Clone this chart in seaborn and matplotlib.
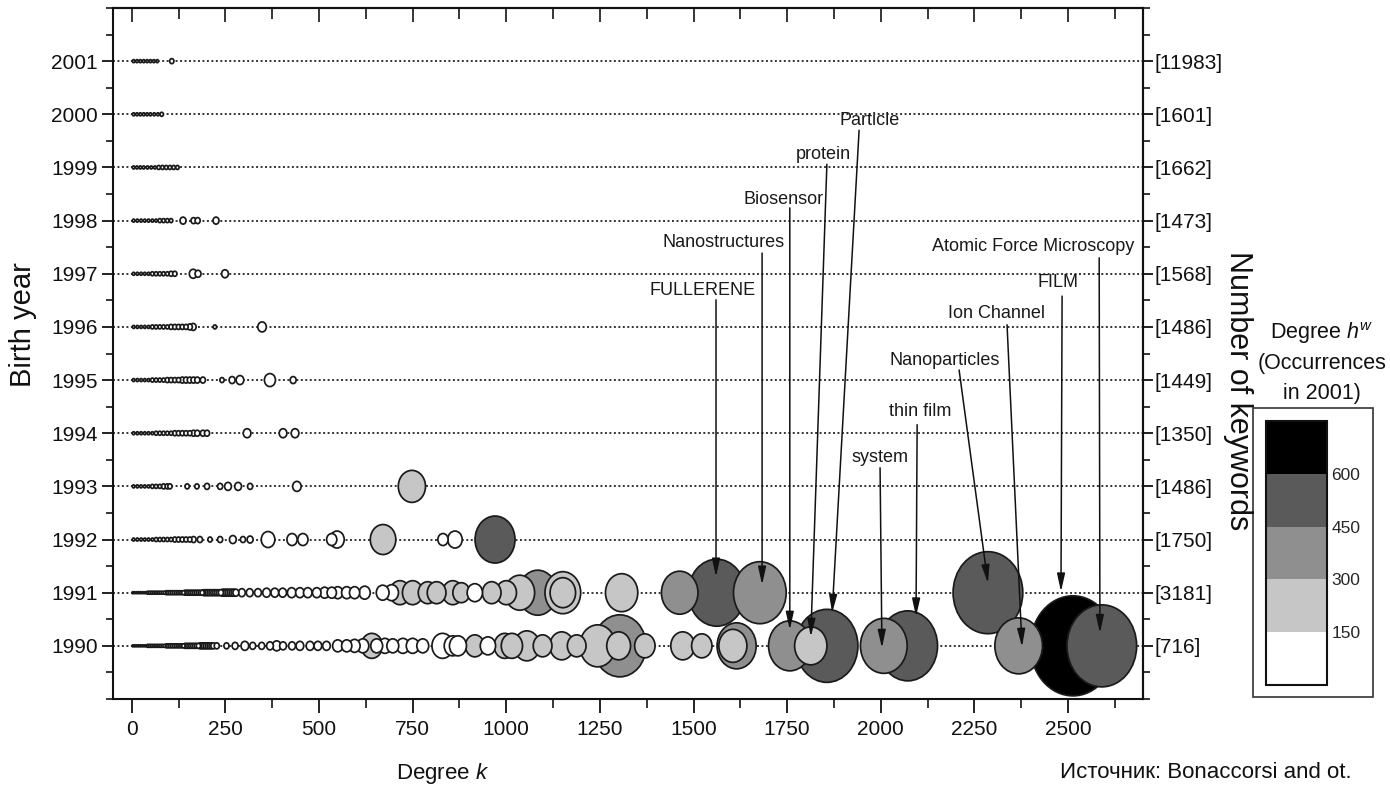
import numpy as np
import pandas as pd
import matplotlib
matplotlib.use("Agg")
import matplotlib.pyplot as plt
import matplotlib.colors as mcolors
import matplotlib.path as mpath
import matplotlib.transforms as mtransforms
from matplotlib.patches import Rectangle
from matplotlib.ticker import MultipleLocator
import seaborn as sns

# ---------------- data ----------------
years = [2001, 2000, 1999, 1998, 1997, 1996, 1995, 1994, 1993, 1992, 1991, 1990]
keyword_counts = [11983, 1601, 1662, 1473, 1568, 1486, 1449, 1350, 1486, 1750, 3181, 716]
x_ticks = [0, 250, 500, 750, 1000, 1250, 1500, 1750, 2000, 2250, 2500]
cbar_ticks = [150, 300, 450, 600]

k_2001 = [5, 14, 23, 32, 41, 50, 59, 68, 107]
occ_2001 = [3, 3, 3, 3, 3, 3, 3, 3, 5]
hw_2001 = [30, 30, 30, 30, 30, 30, 30, 30, 40]

k_2000 = [5, 14, 23, 32, 41, 50, 60, 70, 80]
occ_2000 = [3, 3, 3, 3, 3, 3, 3, 3, 4]
hw_2000 = [30, 30, 30, 30, 30, 30, 30, 30, 30]

k_1999 = [5, 14, 23, 32, 42, 52, 62, 72, 82, 92, 102, 112, 122]
occ_1999 = [3, 3, 3, 3, 3, 3, 3, 4, 4, 4, 4, 4, 4]
hw_1999 = [30, 30, 30, 30, 30, 30, 30, 30, 30, 30, 30, 30, 30]

k_1998 = [5, 15, 25, 35, 45, 55, 65, 75, 85, 95, 105, 137, 165, 176, 225]
occ_1998 = [3, 3, 3, 3, 3, 3, 3, 4, 4, 4, 4, 7, 6, 6, 7]
hw_1998 = [30, 30, 30, 30, 30, 30, 30, 30, 30, 30, 30, 40, 40, 40, 40]

k_1997 = [5, 15, 25, 35, 45, 55, 65, 75, 85, 95, 105, 115, 164, 177, 249]
occ_1997 = [3, 3, 3, 3, 3, 4, 4, 4, 4, 4, 5, 5, 9, 7, 8]
hw_1997 = [30, 30, 30, 30, 30, 30, 30, 30, 30, 30, 30, 30, 40, 40, 40]

k_1996 = [5, 15, 25, 35, 45, 55, 65, 75, 85, 95, 105, 115, 125, 135, 145, 155, 164, 222, 348]
occ_1996 = [3, 3, 3, 3, 3, 4, 4, 4, 4, 4, 5, 5, 5, 5, 5, 6, 7, 4, 10]
hw_1996 = [30, 30, 30, 30, 30, 30, 30, 30, 30, 30, 30, 30, 30, 30, 30, 30, 30, 40, 60]

k_1995 = [5, 15, 25, 35, 45, 55, 65, 75, 85, 95, 105, 115, 125, 135, 145, 155, 165, 175,
          190, 241, 268, 289, 369, 431]
occ_1995 = [3, 3, 3, 3, 3, 4, 4, 4, 4, 5, 5, 5, 5, 6, 6, 6, 6, 6, 6, 5, 7, 9, 13, 7]
hw_1995 = [30, 30, 30, 30, 30, 30, 30, 30, 30, 30, 30, 30, 30, 30, 30, 30, 30, 30,
           30, 40, 40, 50, 60, 50]

k_1994 = [5, 15, 25, 35, 45, 55, 65, 75, 85, 95, 105, 115, 125, 135, 145, 155, 165, 175,
          190, 201, 308, 404, 436]
occ_1994 = [3, 3, 3, 3, 3, 3, 4, 4, 4, 4, 4, 5, 5, 5, 5, 5, 6, 6, 6, 6, 9, 9, 9]
hw_1994 = [30, 30, 30, 30, 30, 30, 30, 30, 30, 30, 30, 30, 30, 30, 30, 30, 30, 30,
           30, 30, 50, 50, 50]

k_1993 = [5, 15, 25, 35, 45, 55, 65, 75, 85, 95, 102, 148, 174, 201, 236, 257, 284, 316, 441, 748]
occ_1993 = [3, 3, 3, 3, 3, 4, 4, 4, 5, 5, 5, 5, 5, 6, 6, 8, 8, 6, 10, 32]
hw_1993 = [30, 30, 30, 30, 30, 30, 30, 30, 30, 30, 30, 40, 40, 40, 40, 50, 50, 50, 60, 220]

k_1992 = [5, 15, 25, 35, 45, 55, 65, 75, 85, 95, 105, 115, 125, 135, 145, 155, 165, 182,
          209, 236, 270, 297, 316, 364, 428, 457, 534, 548, 671, 831, 863, 970]
occ_1992 = [3, 3, 3, 3, 3, 3, 4, 4, 4, 4, 4, 5, 5, 5, 5, 5, 6, 6,
            5, 6, 8, 6, 7, 16, 12, 12, 12, 17, 30, 12, 17, 47]
hw_1992 = [30, 30, 30, 30, 30, 30, 30, 30, 30, 30, 30, 30, 30, 30, 30, 30, 30, 30,
           40, 40, 40, 40, 40, 60, 60, 60, 60, 60, 220, 60, 60, 520]

k_1991 = [3, 8, 13, 18, 23, 28, 33, 38, 43, 48, 53, 58, 63, 68, 73, 78, 83, 88, 93, 98,
          103, 108, 113, 118, 123, 128, 133, 138, 143, 148, 153, 158, 163, 168, 173, 178,
          183, 188, 193, 198, 203, 208, 213, 218, 223, 228, 233, 238, 243, 248, 253, 258,
          263, 268, 273, 278,
          294, 315, 337, 360, 382, 403, 427, 449, 470, 494, 515, 534, 550, 574, 595, 622,
          670, 694, 716, 750, 790, 814, 857, 880, 916, 961, 1000, 1036, 1084, 1151, 1151,
          1308, 1463, 1562, 1677, 2286]
occ_1991 = [2, 2, 2, 2, 2, 2, 2, 2, 3, 3, 3, 3, 3, 3, 3, 3, 3, 3, 4, 4,
            4, 4, 4, 4, 4, 4, 4, 4, 5, 5, 5, 5, 5, 5, 5, 5,
            5, 5, 6, 6, 6, 6, 6, 6, 6, 6, 6, 6, 7, 7, 7, 7,
            7, 7, 7, 7,
            8, 8, 8, 9, 9, 9, 10, 10, 10, 10, 11, 11, 12, 12, 12, 13,
            15, 16, 24, 24, 22, 22, 24, 20, 18, 22, 24, 35, 45, 42, 30,
            38, 43, 67, 62, 82]
hw_1991 = [30, 30, 30, 30, 30, 30, 30, 30, 30, 30, 30, 30, 30, 30, 30, 30, 30, 30, 30, 30,
           30, 30, 30, 30, 30, 30, 30, 30, 30, 30, 30, 30, 30, 30, 30, 30,
           30, 30, 30, 30, 30, 30, 30, 30, 30, 30, 30, 30, 30, 30, 30, 30,
           30, 30, 30, 30,
           40, 40, 40, 40, 40, 40, 50, 50, 50, 50, 50, 50, 60, 60, 60, 60,
           60, 60, 220, 220, 220, 220, 220, 220, 60, 220, 220, 220, 400, 220, 220,
           220, 380, 530, 370, 540]

k_1990 = [3, 8, 13, 18, 23, 28, 33, 38, 43, 48, 53, 58, 63, 68, 73, 78, 83, 88, 93, 98,
          103, 108, 113, 118, 123, 128, 133, 138, 143, 148, 153, 158, 163, 168, 173, 178,
          183, 188, 193, 198, 203, 208, 213, 218,
          227, 253, 276, 302, 323, 347, 369, 387, 404, 428, 449, 476, 497, 520, 550, 574,
          595, 617, 641, 654, 676, 697, 724, 750, 777, 830, 857, 871, 916, 951, 996, 1015,
          1055, 1097, 1148, 1188, 1244, 1303, 1300, 1370, 1471, 1522, 1615, 1605, 1757,
          1856, 1813, 2008, 2072, 2368, 2513, 2590]
occ_1990 = [2, 2, 2, 2, 2, 2, 2, 2, 3, 3, 3, 3, 3, 3, 3, 3, 3, 3, 4, 4,
            4, 4, 4, 4, 4, 4, 4, 4, 5, 5, 5, 5, 5, 5, 5, 5,
            6, 6, 6, 6, 6, 6, 6, 6,
            6, 6, 7, 9, 7, 7, 8, 10, 8, 8, 9, 9, 9, 9, 12, 12,
            13, 14, 25, 14, 15, 14, 15, 15, 14, 25, 20, 20, 22, 18, 25, 25,
            30, 22, 28, 22, 42, 62, 28, 24, 28, 24, 46, 33, 50,
            73, 38, 55, 70, 56, 104, 82]
hw_1990 = [30, 30, 30, 30, 30, 30, 30, 30, 30, 30, 30, 30, 30, 30, 30, 30, 30, 30, 30, 30,
           30, 30, 30, 30, 30, 30, 30, 30, 30, 30, 30, 30, 30, 30, 30, 30,
           30, 30, 30, 30, 30, 30, 30, 30,
           40, 40, 40, 40, 40, 40, 40, 40, 40, 50, 50, 50, 50, 50, 60, 60,
           60, 60, 220, 60, 60, 60, 60, 60, 60, 60, 60, 60, 220, 60, 220, 220,
           220, 220, 220, 220, 220, 410, 220, 220, 220, 220, 390, 220, 380,
           530, 230, 370, 520, 380, 690, 510]

# annotation labels: (text, text position, arrow start, arrow tip) in data units
annotations = [
    ("FULLERENE", (1523, 1996.69), (1560, 1996.51), (1560, 1991.30)),
    ("Nanostructures", (1579, 1997.58), (1683, 1997.39), (1683, 1991.15)),
    ("Biosensor", (1741, 1998.39), (1757, 1998.24), (1757, 1990.30)),
    ("protein", (1846, 1999.25), (1856, 1999.06), (1813, 1990.17)),
    ("Particle", (1971, 1999.89), (1942, 1999.70), (1870, 1990.62)),
    ("system", (1998, 1993.55), (1998, 1993.35), (2003, 1989.96)),
    ("thin film", (2105, 1994.40), (2097, 1994.16), (2094, 1990.55)),
    ("Nanoparticles", (2171, 1995.36), (2209, 1995.19), (2286, 1991.18)),
    ("Ion Channel", (2308, 1996.26), (2337, 1996.04), (2377, 1989.98)),
    ("FILM", (2473, 1996.83), (2484, 1996.58), (2481, 1991.02)),
    ("Atomic Force Microscopy", (2406, 1997.52), (2583, 1997.30), (2585, 1990.24)),
]

# ---------------- style ----------------
sns.set_theme(style="white")
plt.rcParams['font.family'] = ['Liberation Sans', 'DejaVu Sans']
plt.rcParams['mathtext.fontset'] = 'custom'
plt.rcParams['mathtext.rm'] = 'Liberation Sans'
plt.rcParams['mathtext.it'] = 'Liberation Sans:italic'
plt.rcParams['text.color'] = '#111111'

rows = [
    (2001, k_2001, occ_2001, hw_2001), (2000, k_2000, occ_2000, hw_2000),
    (1999, k_1999, occ_1999, hw_1999), (1998, k_1998, occ_1998, hw_1998),
    (1997, k_1997, occ_1997, hw_1997), (1996, k_1996, occ_1996, hw_1996),
    (1995, k_1995, occ_1995, hw_1995), (1994, k_1994, occ_1994, hw_1994),
    (1993, k_1993, occ_1993, hw_1993), (1992, k_1992, occ_1992, hw_1992),
    (1991, k_1991, occ_1991, hw_1991), (1990, k_1990, occ_1990, hw_1990),
]
df = pd.concat([pd.DataFrame({'year': yr, 'k': ks, 'occ': oc, 'hw': hw})
                for yr, ks, oc, hw in rows], ignore_index=True)
df['area'] = df['occ'] ** 2
df = df.sort_values('area', ascending=False, kind='stable').reset_index(drop=True)

W, H = 1390, 785
def fx(px):
    return px / W
def fy(py):
    return 1 - py / H

fig = plt.figure(figsize=(13.9, 7.85), dpi=100)
ax = fig.add_axes([fx(113), fy(699), (1143 - 113) / W, (699 - 8) / H])

grays = ['#ffffff', '#c6c6c6', '#8f8f8f', '#5a5a5a', '#000000']
cmap = mcolors.ListedColormap(grays)
bounds = [0, 150, 300, 450, 600, 750]
norm = mcolors.BoundaryNorm(bounds, cmap.N)

ellipse = mpath.Path.unit_circle().transformed(mtransforms.Affine2D().scale(0.85, 1.0))

sns.scatterplot(data=df, x='k', y='year', hue='hw', palette=cmap, hue_norm=norm,
                size='area', sizes=(0, (100 * 0.72) ** 2), size_norm=(0, 100 ** 2),
                marker=ellipse, edgecolor='#1a1a1a', linewidth=1.25, legend=False,
                ax=ax, zorder=2)

ax.set_xlim(-50, 2700)
ax.set_ylim(1989, 2002)
ax.set_xticks(x_ticks)
ax.set_xticklabels([str(v) for v in x_ticks])
ax.xaxis.set_minor_locator(MultipleLocator(125))
ax.set_yticks(years)
ax.set_yticklabels([str(y) for y in years])
ax.yaxis.set_minor_locator(MultipleLocator(0.5))
ax.set_xlabel('')
ax.set_ylabel('')

ax.grid(False)
ax.grid(axis='y', which='major', linestyle=(0, (1, 1.3)), color='#333333', linewidth=1.4)
ax.set_axisbelow(True)

for sp in ax.spines.values():
    sp.set_color('#111111')
    sp.set_linewidth(1.5)

ax.tick_params(axis='y', which='major', direction='out', length=8, width=1.3,
               labelsize=15, pad=3, left=True, right=False, colors='#111111')
ax.tick_params(axis='y', which='minor', direction='out', length=5, width=1.3, left=True, right=False)
ax.tick_params(axis='x', which='major', direction='out', length=10, width=1.3,
               labelsize=15, pad=5, bottom=True, top=False, colors='#111111')
ax.tick_params(axis='x', which='minor', direction='out', length=6.5, width=1.3, bottom=True, top=False)

secx = ax.secondary_xaxis('top')
secx.set_xticks(x_ticks)
secx.xaxis.set_minor_locator(MultipleLocator(125))
secx.tick_params(axis='x', which='major', direction='in', length=10, width=1.3, labeltop=False)
secx.tick_params(axis='x', which='minor', direction='in', length=8, width=1.3)
secx.spines['top'].set_linewidth(1.5)

secy = ax.secondary_yaxis('right')
secy.set_yticks(years)
secy.set_yticklabels(['[%d]' % c for c in keyword_counts])
secy.yaxis.set_minor_locator(MultipleLocator(0.5))
secy.tick_params(axis='y', which='major', direction='out', length=7, width=1.3,
                 labelsize=15, pad=1, colors='#111111')
secy.tick_params(axis='y', which='minor', direction='out', length=5, width=1.3)
secy.spines['right'].set_linewidth(1.5)

for label, tpos, start, tip in annotations:
    ax.text(tpos[0], tpos[1], label, ha='center', va='center', fontsize=13,
            color='#1a1a1a', zorder=6)
    ax.annotate('', xy=tip, xytext=start,
                arrowprops=dict(arrowstyle='-|>,head_length=0.9,head_width=0.2',
                                color='#111111', lw=1.1, shrinkA=0, shrinkB=0,
                                mutation_scale=12), zorder=6)

# axis titles
fig.text(fx(23), fy(325), 'Birth year', rotation=90, ha='center', va='center', fontsize=21)
fig.text(fx(1238), fy(391), 'Number of keywords', rotation=-90, ha='center', va='center', fontsize=22)
fig.text(fx(443), fy(773), 'Degree $k$', ha='center', va='center', fontsize=16)

# colour bar
cax = fig.add_axes([fx(1266), fy(685), 61 / W, (685 - 421) / H])
sm = matplotlib.cm.ScalarMappable(norm=norm, cmap=cmap)
cb = fig.colorbar(sm, cax=cax, ticks=cbar_ticks)
cb.ax.minorticks_off()
cb.ax.tick_params(which='both', length=0, labelsize=12.5, pad=3)
cb.outline.set_linewidth(1.5)
cb.outline.set_edgecolor('#111111')
fig.add_artist(Rectangle((fx(1253), fy(697)), 120 / W, 289 / H, transform=fig.transFigure,
                         fill=False, ec='#333333', lw=1.2))
fig.text(fx(1322), fy(333), 'Degree $h^{w}$', ha='center', va='center', fontsize=15.5)
fig.text(fx(1322), fy(363), '(Occurrences', ha='center', va='center', fontsize=15.5)
fig.text(fx(1322), fy(393), 'in 2001)', ha='center', va='center', fontsize=15.5)

fig.text(fx(1060), fy(773), 'Источник: Bonaccorsi and ot.', ha='left', va='center',
         fontsize=16)

fig.savefig('out.png', dpi=100)
